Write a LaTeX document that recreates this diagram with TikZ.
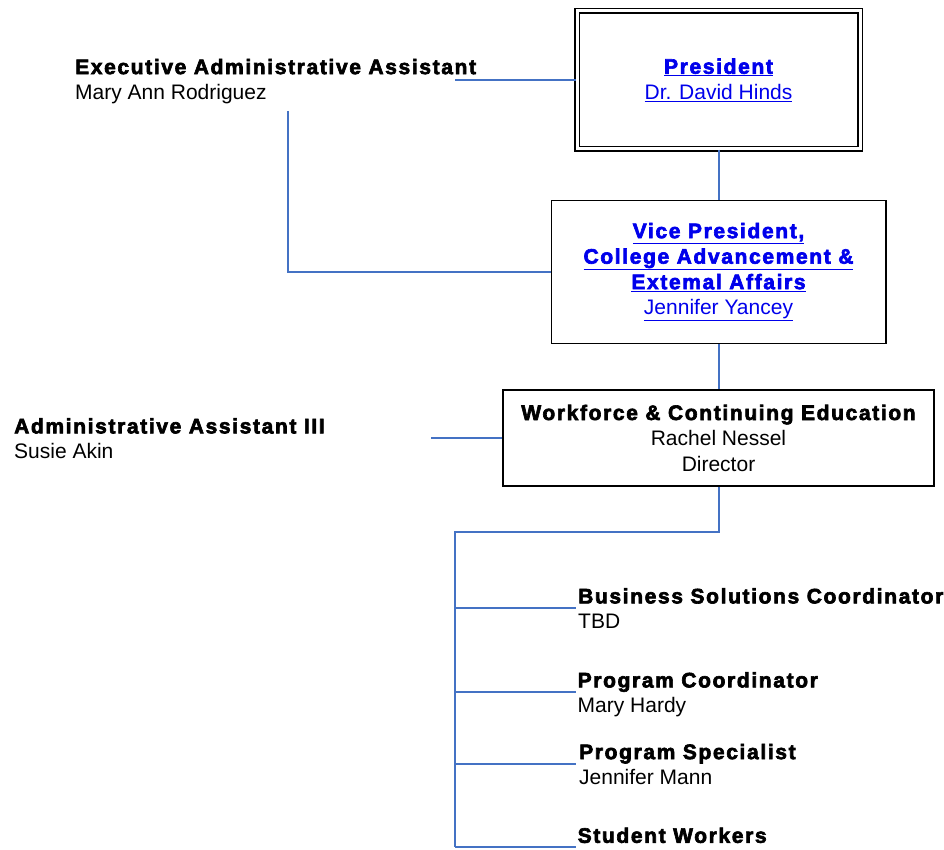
\documentclass[tikz,border=0pt]{standalone}
\usepackage{fontspec}
\setmainfont{Liberation Sans}
\newfontfamily\headfont[LetterSpace=7.8,FakeBold=3]{Liberation Sans Bold}
\usetikzlibrary{calc}

\definecolor{linkblue}{RGB}{0,0,235}
\definecolor{lineblue}{RGB}{68,114,196}

\newcommand{\role}[1]{{\headfont #1}}

\tikzset{
  orgbox/.style={draw=black, line width=1.5pt, align=center, inner sep=0pt},
  staff/.style={anchor=north west, align=left, inner sep=0pt},
  orgline/.style={draw=lineblue, line width=2pt}
}

\begin{document}
\begin{tikzpicture}[x=1pt, y=-1pt,
  every node/.append style={font=\fontsize{21}{25.5}\selectfont}]
  \useasboundingbox (0,0) rectangle (944,850);

  % boxes down the middle
  \node[orgbox, double, double distance=3pt, text=linkblue,
        minimum width=283pt, minimum height=138pt] (pres) at (718.5,80)
    {\underline{\role{President}}\\\underline{Dr. David Hinds}};
  \node[orgbox, text=linkblue, minimum width=334.5pt, minimum height=143pt]
    (vp) at (718.5,272)
    {\underline{\role{Vice President,}}\\
     \underline{\role{College Advancement \&}}\\
     \underline{\role{Extemal Affairs}}\\
     \underline{Jennifer Yancey}};
  \node[orgbox, minimum width=431pt, minimum height=96pt] (wce) at (718.5,438)
    {\role{Workforce \& Continuing Education}\\Rachel Nessel\\Director};

  % staff names
  \node[staff] (execasst) at (75,58.7)
    {\role{Executive Administrative Assistant}\\Mary Ann Rodriguez};
  \node[staff] (adminasst) at (14,418)
    {\role{Administrative Assistant III}\\Susie Akin};
  \node[staff] (bizcoord) at (578,588)
    {\role{Business Solutions Coordinator}\\TBD};
  \node[staff] (progcoord) at (577.5,672)
    {\role{Program Coordinator}\\Mary Hardy};
  \node[staff] (progspec) at (579,743.7)
    {\role{Program Specialist}\\Jennifer Mann};
  \node[staff] (students) at (577.5,827.4)
    {\role{Student Workers}};

  % connector ends
  \coordinate (execR) at (455,80);
  \coordinate (execL) at (288,111);
  \coordinate (adminR) at (431,438);
  \coordinate (trunktop) at (455,532);
  \coordinate (trunkbot) at (455,847);
  \coordinate (bizC) at (576,608);
  \coordinate (progcC) at (576,692);
  \coordinate (progsC) at (576,764);
  \coordinate (stuC) at (576,847);

  \draw[orgline] (pres.south) -- (vp.north);
  \draw[orgline] (vp.south) -- (wce.north);
  \draw[orgline] (execR) -- (pres.west);
  \draw[orgline] (execL) |- (vp.west);
  \draw[orgline] (adminR) -- (wce.west);
  \draw[orgline] (wce.south) |- (trunktop) -- (trunkbot);
  \draw[orgline] (trunktop |- bizC) -- (bizC);
  \draw[orgline] (trunktop |- progcC) -- (progcC);
  \draw[orgline] (trunktop |- progsC) -- (progsC);
  \draw[orgline] (trunkbot) -- (stuC);

\end{tikzpicture}
\end{document}
